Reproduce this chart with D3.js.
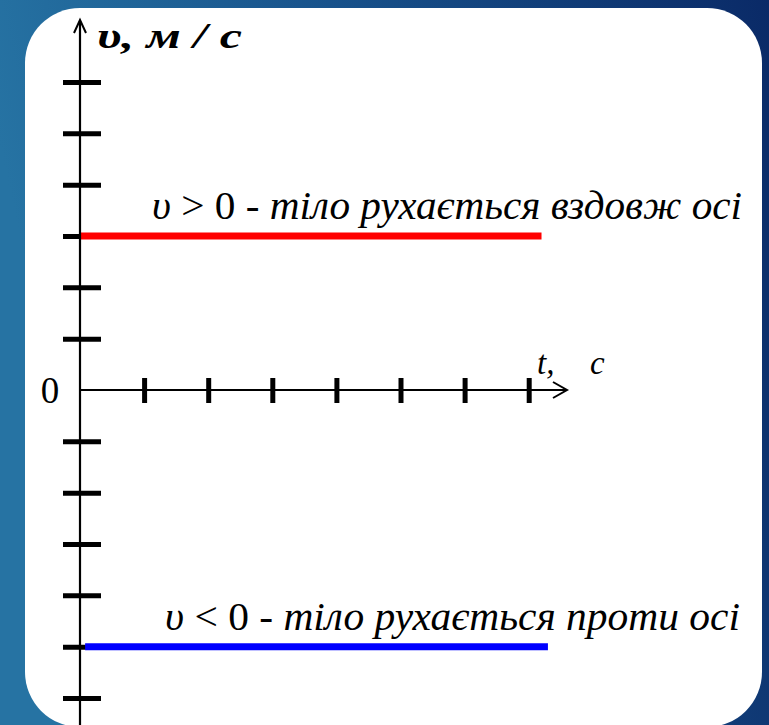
<!DOCTYPE html>
<html>
<head>
<meta charset="utf-8">
<script src="https://cdn.jsdelivr.net/npm/d3@7"></script>
<style>
  html, body { margin: 0; padding: 0; background: #0b2d6a; }
  svg { display: block; }
  text { font-family: "Liberation Serif", "Times New Roman", serif; }
</style>
</head>
<body>
<div id="chart"></div>
<script>
// Values
const tTicks = [1, 2, 3, 4, 5, 6, 7];
const vTicks = [-6, -5, -4, -3, -2, -1, 1, 2, 3, 4, 5, 6];
const lineValues = [3, -5];
const lineEnds = [7.2, 7.3];
const lineColors = ['#ff0000', '#0000ff'];
const lineSigns = ['>', '<'];
const lineTexts = ['тіло рухається вздовж осі', 'тіло рухається проти осі'];

const width = 769;
const height = 725;

const svg = d3.select('#chart')
    .append('svg')
    .attr('width', width)
    .attr('height', height);

// background gradient
const defs = svg.append('defs');
const grad = defs.append('linearGradient')
    .attr('id', 'bg')
    .attr('x1', 0).attr('y1', 0.2)
    .attr('x2', 1).attr('y2', 0);
grad.append('stop').attr('offset', 0).attr('stop-color', '#2673a3');
grad.append('stop').attr('offset', 0.45).attr('stop-color', '#18528b');
grad.append('stop').attr('offset', 1).attr('stop-color', '#0a2a67');

svg.append('rect')
    .attr('width', width)
    .attr('height', height)
    .attr('fill', 'url(#bg)');

// white panel
svg.append('rect')
    .attr('x', 25)
    .attr('y', 8)
    .attr('width', 737)
    .attr('height', 719)
    .attr('rx', 55)
    .attr('fill', '#ffffff');

const xScale = d3.scaleLinear()
    .domain([0, 7])
    .range([80, 528.7]);

const yScale = d3.scaleLinear()
    .domain([-6, 6])
    .range([698, 82]);

const x0 = xScale(0);
const y0 = yScale(0);

// y axis with thick ticks
const yAxis = d3.axisLeft(yScale)
    .tickValues(vTicks)
    .tickSize(0)
    .tickFormat('');

const gy = svg.append('g')
    .attr('transform', `translate(${x0},0)`)
    .call(yAxis);
gy.select('.domain').remove();

gy.selectAll('.tick').append('line')
    .attr('x1', -17)
    .attr('x2', 21)
    .attr('stroke', '#000')
    .attr('stroke-width', 5);

// horizontal lines for the two cases
svg.append('g')
    .selectAll('line')
    .data(lineValues)
    .join('line')
    .attr('x1', (d, i) => xScale(i === 1 ? 0.08 : 0))
    .attr('x2', (d, i) => xScale(lineEnds[i]))
    .attr('y1', d => yScale(d))
    .attr('y2', d => yScale(d))
    .attr('stroke', (d, i) => lineColors[i])
    .attr('stroke-width', 7);

svg.append('line')
    .attr('x1', x0).attr('x2', x0)
    .attr('y1', 21).attr('y2', height)
    .attr('stroke', '#000')
    .attr('stroke-width', 2.2);

svg.append('path')
    .attr('d', `M${x0 - 6},${33} L${x0},${20} L${x0 + 6},${33}`)
    .attr('fill', 'none')
    .attr('stroke', '#000')
    .attr('stroke-width', 2);

// x axis
const xAxis = d3.axisBottom(xScale)
    .tickValues(tTicks)
    .tickSize(0)
    .tickFormat('');

const gx = svg.append('g')
    .attr('transform', `translate(0,${y0})`)
    .call(xAxis);
gx.select('.domain').remove();

gx.selectAll('.tick').append('line')
    .attr('y1', -12)
    .attr('y2', 13)
    .attr('stroke', '#000')
    .attr('stroke-width', 5);

svg.append('line')
    .attr('x1', x0).attr('x2', 566)
    .attr('y1', y0).attr('y2', y0)
    .attr('stroke', '#000')
    .attr('stroke-width', 2.2);

svg.append('path')
    .attr('d', `M553,${y0 - 8} L567,${y0} L553,${y0 + 8}`)
    .attr('fill', 'none')
    .attr('stroke', '#000')
    .attr('stroke-width', 2);

// zero label
svg.append('text')
    .attr('x', 50)
    .attr('y', y0 + 13)
    .attr('text-anchor', 'middle')
    .style('font-size', '37px')
    .text('0');

// axis names
svg.append('text')
    .attr('x', 97)
    .attr('y', 48)
    .attr('textLength', 145)
    .attr('lengthAdjust', 'spacingAndGlyphs')
    .style('font-size', '36px')
    .style('font-style', 'italic')
    .style('font-weight', 'bold')
    .text('υ,  м / с');

svg.append('text')
    .attr('x', 537)
    .attr('y', 374)
    .style('font-size', '33px')
    .style('font-style', 'italic')
    .text('t,');

svg.append('text')
    .attr('x', 590)
    .attr('y', 374)
    .style('font-size', '33px')
    .style('font-style', 'italic')
    .text('c');

// line labels
const labelStart = [152, 165];
const labelLength = [590, 575];

lineValues.forEach((v, i) => {
    const t = svg.append('text')
        .attr('x', labelStart[i])
        .attr('y', yScale(v) - 17)
        .attr('textLength', labelLength[i])
        .attr('lengthAdjust', 'spacingAndGlyphs')
        .style('font-size', '40px');
    t.append('tspan').style('font-style', 'italic').text('υ');
    t.append('tspan').text(' ' + lineSigns[i] + ' 0 - ');
    t.append('tspan').style('font-style', 'italic').text(lineTexts[i]);
});
</script>
</body>
</html>
